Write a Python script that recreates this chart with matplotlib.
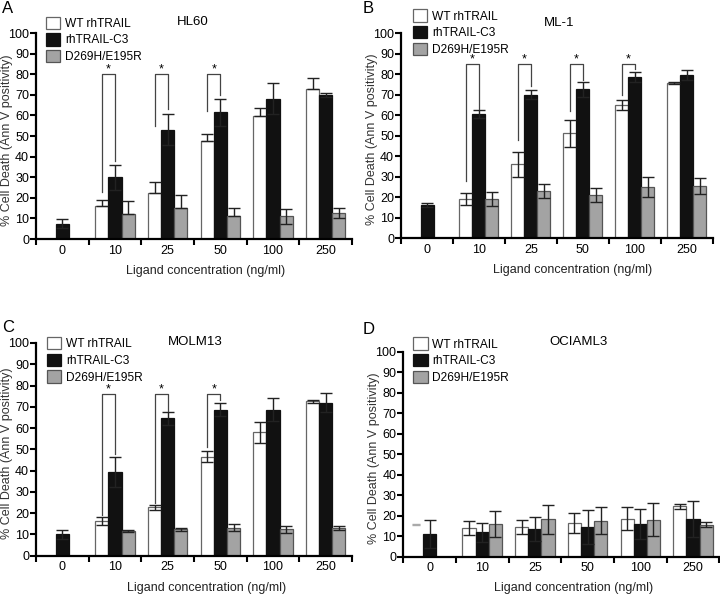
import numpy as np
import matplotlib.pyplot as plt
from matplotlib.patches import Patch

plt.rcParams['font.family'] = ['Liberation Sans', 'DejaVu Sans']

conc = ['0', '10', '25', '50', '100', '250']
series_names = ['WT rhTRAIL', 'rhTRAIL-C3', 'D269H/E195R']

# HL60
hl60_wt = [np.nan, 16, 22.5, 47.5, 59.5, 73]
hl60_wt_err = [0, 3, 5, 3.5, 4, 5]
hl60_wt_lo = [0, 0, 0, 0, 0, 0]
hl60_c3 = [7.5, 30, 53, 61.5, 68, 70]
hl60_c3_err = [2, 6, 7.5, 6.5, 7.5, 1]
hl60_mut = [np.nan, 12, 15, 11, 11, 12.5]
hl60_mut_err = [0, 6.5, 6.5, 4, 3.5, 2.5]
hl60_mut_lo = [0, 0, 0, 0, 3.5, 2.5]
hl60_sig = [(1, 80, 23, 38), (2, 80, 55, 63), (3, 80, 62, 70)]

# ML-1
ml1_wt = [np.nan, 19, 36, 51, 65, 75.5]
ml1_wt_err = [0, 3, 6, 6.5, 2.5, 0.5]
ml1_c3 = [16, 60.5, 70, 72.5, 78.5, 79.5]
ml1_c3_err = [1, 2, 2, 3.5, 2.5, 2.5]
ml1_mut = [np.nan, 19, 23, 21, 25, 25.5]
ml1_mut_err = [0, 3.5, 3.5, 3.5, 5, 4]
ml1_sig = [(1, 85, 28, 63), (2, 85, 48, 74), (3, 85, 62, 77), (4, 85, 70, 82.5)]

# MOLM13
molm_wt = [np.nan, 16.3, 22.8, 46.6, 58, 72.5]
molm_wt_err = [0, 1.7, 1.2, 2.5, 5, 0.5]
molm_c3 = [10, 39.5, 64.5, 68.6, 68.6, 72]
molm_c3_err = [2, 7, 3, 3, 5.5, 4.4]
molm_mut = [np.nan, 11.8, 12.4, 13.2, 12.4, 12.9]
molm_mut_err = [0, 0.5, 0.6, 1.8, 1.5, 1]
molm_sig = [(1, 76, 19, 48), (2, 76, 25, 68), (3, 76, 51, 73)]

# OCIAML3
oci_wt = [np.nan, 14, 14.5, 16.4, 18.4, 24.5]
oci_wt_err = [0, 3.3, 3.5, 4.9, 5.6, 1]
oci_wt0 = 15.8
oci_c3 = [11, 11.9, 13.5, 14.5, 16, 18.4]
oci_c3_err = [6.7, 4.5, 6, 8.5, 7.5, 9]
oci_mut = [np.nan, 16, 18.3, 17.6, 18, 15.6]
oci_mut_err = [0, 6.5, 7, 6.4, 8, 1.2]

fills = ['white', '#111111', '#a3a3a3']
edges = ['#666666', '#111111', '#555555']
bw = 0.25


def draw_panel(ax, title, title_xy, vals, errs, los, sig, leg_xy, xlab_x):
    centers = np.arange(len(conc)) + 0.5
    for k in range(3):
        x = centers + (k - 1) * bw
        v = np.array(vals[k], dtype=float)
        e = np.array(errs[k], dtype=float)
        lo = np.array(los[k], dtype=float)
        ok = ~np.isnan(v)
        ax.bar(x[ok], v[ok], bw, color=fills[k], edgecolor=edges[k], linewidth=0.9, zorder=2)
        ax.errorbar(x[ok], v[ok], yerr=[lo[ok], e[ok]], fmt='none', ecolor='#222222',
                    elinewidth=1, capsize=4, capthick=1, zorder=3)
    for g, top, yl, yr in sig:
        xl = centers[g] - bw
        xr = centers[g]
        ax.plot([xl, xl, xr, xr], [yl, top, top, yr], color='#444444', lw=0.9, zorder=4)
        ax.text((xl + xr) / 2, top + 0.8, '*', ha='center', va='baseline', fontsize=9)

    ax.set_xlim(0, len(conc))
    ax.set_ylim(0, 100)
    ax.set_yticks(np.arange(0, 101, 10))
    ax.set_xticks(np.arange(0, len(conc) + 1))
    ax.set_xticklabels([])
    ax.set_xticks(centers, minor=True)
    ax.set_xticklabels(conc, minor=True)
    ax.tick_params(axis='x', which='minor', length=0, pad=4, labelsize=9)
    ax.tick_params(axis='x', which='major', length=4, width=1.5, direction='out')
    ax.tick_params(axis='y', length=4, width=1.5, direction='out', labelsize=9, pad=1)
    for s in ['top', 'right']:
        ax.spines[s].set_visible(False)
    for s in ['left', 'bottom']:
        ax.spines[s].set_linewidth(1.6)
    ax.set_xlabel('Ligand concentration (ng/ml)', fontsize=9, color='#222222')
    ax.xaxis.set_label_coords(xlab_x, -0.125)
    ax.set_ylabel('% Cell Death (Ann V positivity)', fontsize=9, color='#333333')
    ax.yaxis.set_label_coords(-0.073, 0.48)
    ax.text(title_xy[0], title_xy[1], title, transform=ax.transAxes,
            ha='center', va='center', fontsize=9.5)
    handles = [Patch(facecolor=fills[k], edgecolor=edges[k], linewidth=0.9) for k in range(3)]
    ax.legend(handles, series_names, loc='upper left', bbox_to_anchor=leg_xy, frameon=False,
              fontsize=8.6, handlelength=1.2, handleheight=1.2, labelspacing=0.3,
              handletextpad=0.4, borderpad=0, borderaxespad=0)


fig = plt.figure(figsize=(7.2, 5.94), dpi=100)

axA = fig.add_axes([0.050, 0.5976, 0.439, 0.3468])
axB = fig.add_axes([0.557, 0.5993, 0.433, 0.3451])
axC = fig.add_axes([0.050, 0.0645, 0.439, 0.3581])
axD = fig.add_axes([0.560, 0.0628, 0.439, 0.3451])

draw_panel(axA, 'HL60', (0.497, 1.053), [hl60_wt, hl60_c3, hl60_mut],
           [hl60_wt_err, hl60_c3_err, hl60_mut_err],
           [hl60_wt_lo, hl60_c3_err, hl60_mut_lo], hl60_sig, (0.032, 1.08), 0.538)
draw_panel(axB, 'ML-1', (0.506, 1.049), [ml1_wt, ml1_c3, ml1_mut],
           [ml1_wt_err, ml1_c3_err, ml1_mut_err],
           [ml1_wt_err, ml1_c3_err, ml1_mut_err], ml1_sig, (0.038, 1.115), 0.551)
draw_panel(axC, 'MOLM13', (0.503, 1.006), [molm_wt, molm_c3, molm_mut],
           [molm_wt_err, molm_c3_err, molm_mut_err],
           [molm_wt_err, molm_c3_err, molm_mut_err], molm_sig, (0.035, 1.028), 0.54)
draw_panel(axD, 'OCIAML3', (0.554, 1.049), [oci_wt, oci_c3, oci_mut],
           [oci_wt_err, oci_c3_err, oci_mut_err],
           [oci_wt_err, oci_c3_err, oci_mut_err], [], (0.032, 1.07), 0.538)
# faint mark for the untreated WT point in OCIAML3
axD.errorbar([0.5 - bw], [oci_wt0], yerr=[[0.3], [0.3]], fmt='none', ecolor='#aaaaaa',
             elinewidth=1, capsize=3, zorder=3)

for lab, x, y in [('A', 0.003, 0.985), ('B', 0.503, 0.985), ('C', 0.003, 0.449), ('D', 0.503, 0.445)]:
    fig.text(x, y, lab, fontsize=12, ha='left', va='center')

fig.savefig('out.png', dpi=100)
